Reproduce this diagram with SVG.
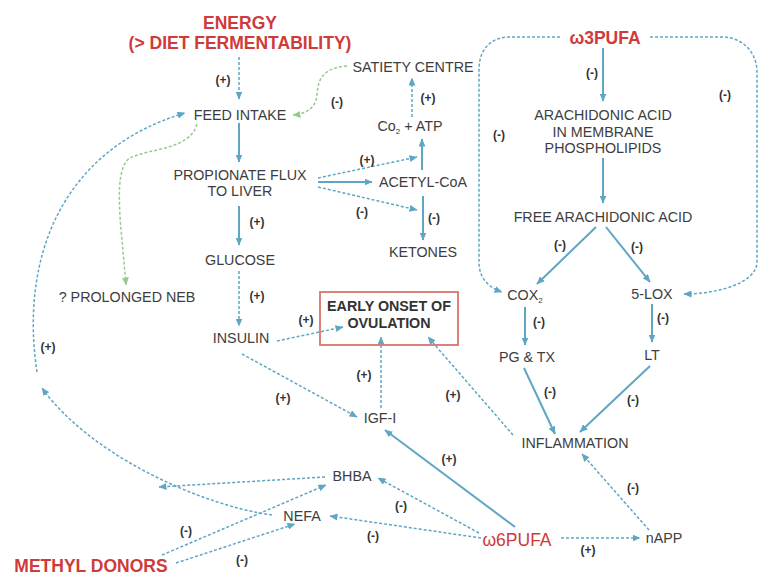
<svg xmlns="http://www.w3.org/2000/svg" width="758" height="577" viewBox="0 0 758 577">
<defs>
<marker id="ab" viewBox="0 0 8 7" refX="7.5" refY="3.5" markerWidth="8" markerHeight="7" markerUnits="userSpaceOnUse" orient="auto"><path d="M0,0 L8,3.5 L0,7 z" fill="#5ea6c4"/></marker>
<marker id="ag" viewBox="0 0 8 7" refX="7.5" refY="3.5" markerWidth="8" markerHeight="7" markerUnits="userSpaceOnUse" orient="auto"><path d="M0,0 L8,3.5 L0,7 z" fill="#98c98f"/></marker>
</defs>
<style>
text{font-family:"Liberation Sans",Arial,sans-serif;}
.n{font-size:14.3px;fill:#3d3d3d;text-anchor:middle;}
.r{font-size:17.5px;font-weight:bold;fill:#cf3a3a;text-anchor:middle;}
.rn{font-size:17.5px;fill:#cf3a3a;text-anchor:middle;}
.b{font-size:14.3px;font-weight:bold;fill:#333;text-anchor:middle;}
.l{font-size:12px;font-weight:bold;fill:#333;text-anchor:middle;}
.s{fill:none;stroke:#5ea6c4;stroke-width:2;marker-end:url(#ab);}
.d{fill:none;stroke:#5ea6c4;stroke-width:1.5;stroke-dasharray:3 2;marker-end:url(#ab);}
.g{fill:none;stroke:#98c98f;stroke-width:1.5;stroke-dasharray:3 2;marker-end:url(#ag);}
.dn{fill:none;stroke:#5ea6c4;stroke-width:1.5;stroke-dasharray:3 2;}
</style>
<rect width="758" height="577" fill="#fff"/>
<g id="connectors">
<path class="s" d="M239,123 L239,162"/>
<path class="s" d="M239,206 L239,245"/>
<path class="s" d="M318,182 L372,182"/>
<path class="s" d="M422,170 L422,139"/>
<path class="s" d="M423,196 L423,240"/>
<path class="s" d="M603,48 L603,101"/>
<path class="s" d="M603,158 L603,203"/>
<path class="s" d="M596,227 L537,284"/>
<path class="s" d="M606,227 L650,282"/>
<path class="s" d="M525,307 L525,345"/>
<path class="s" d="M652,304 L652,342"/>
<path class="s" d="M524,368 L555,434"/>
<path class="s" d="M650,366 L580,432"/>
<path class="s" d="M515,527 L385,430"/>
<path class="d" d="M239,57 L239,99"/>
<path class="d" d="M412,117 L412,78"/>
<path class="d" d="M318,178 L417,157"/>
<path class="d" d="M318,187 L417,210"/>
<path class="d" d="M239,271 L239,326"/>
<path class="d" d="M277,341 L343,327"/>
<path class="d" d="M242,354 L357,417"/>
<path class="d" d="M381,408 L381,337"/>
<path class="d" d="M513,435 L428,337"/>
<path class="d" d="M479,533 L378,478"/>
<path class="d" d="M481,538 L330,516"/>
<path class="d" d="M561,538 L640,538"/>
<path class="d" d="M649,530 L582,454"/>
<path class="d" d="M162,555 L326,485"/>
<path class="d" d="M176,563 L295,524"/>
<path class="d" d="M325,477 L159,487"/>
<path class="d" d="M272,515 C200,505 90,455 42,388"/>
<path class="d" d="M37,372 C20,260 60,150 185,113"/>
<path class="d" d="M560,37 L510,37 C490,37 479,50 479,70 L479,262 C479,278 488,287 502,292"/>
<path class="d" d="M650,37 L722,37 C742,37 757,52 757,72 L757,262 C757,282 720,294 684,294"/>
<path class="g" d="M347,66 C322,68 318,80 317,95 C316,108 306,114 293,115"/>
<path class="g" d="M197,124 C190,150 150,148 130,158 C117,166 118,200 122,240 L126,285"/>
</g>
<g id="labels">
<text class="l" x="223" y="84">(+)</text>
<text class="l" x="337" y="106">(-)</text>
<text class="l" x="428" y="102">(+)</text>
<text class="l" x="367" y="164">(+)</text>
<text class="l" x="362" y="216">(-)</text>
<text class="l" x="434" y="222">(-)</text>
<text class="l" x="257" y="226">(+)</text>
<text class="l" x="257" y="300">(+)</text>
<text class="l" x="306" y="324">(+)</text>
<text class="l" x="48" y="351">(+)</text>
<text class="l" x="364" y="379">(+)</text>
<text class="l" x="283" y="402">(+)</text>
<text class="l" x="453" y="399">(+)</text>
<text class="l" x="449" y="463">(+)</text>
<text class="l" x="401" y="510">(-)</text>
<text class="l" x="373" y="540">(-)</text>
<text class="l" x="186" y="535">(-)</text>
<text class="l" x="242" y="564">(-)</text>
<text class="l" x="588" y="554">(+)</text>
<text class="l" x="633" y="492">(-)</text>
<text class="l" x="592" y="77">(-)</text>
<text class="l" x="499" y="139">(-)</text>
<text class="l" x="725" y="99">(-)</text>
<text class="l" x="560" y="249">(-)</text>
<text class="l" x="637" y="251">(-)</text>
<text class="l" x="539" y="326">(-)</text>
<text class="l" x="663" y="322">(-)</text>
<text class="l" x="550" y="396">(-)</text>
<text class="l" x="633" y="404">(-)</text>
</g>
<g id="energy"><text class="r" x="240" y="29">ENERGY</text><text class="r" x="240" y="49">(&gt; DIET FERMENTABILITY)</text></g>
<g id="feed-intake"><text class="n" x="240" y="120">FEED INTAKE</text></g>
<g id="propionate"><text class="n" x="240" y="180">PROPIONATE FLUX</text><text class="n" x="240" y="196">TO LIVER</text></g>
<g id="glucose"><text class="n" x="240" y="265">GLUCOSE</text></g>
<g id="insulin"><text class="n" x="241" y="343">INSULIN</text></g>
<g id="neb"><text class="n" x="127" y="302">? PROLONGED NEB</text></g>
<g id="satiety"><text class="n" x="413" y="72">SATIETY CENTRE</text></g>
<g id="co2atp"><text class="n" x="410" y="131">Co<tspan font-size="8" dy="3">2</tspan><tspan dy="-3"> + ATP</tspan></text></g>
<g id="acetyl"><text class="n" x="423" y="187">ACETYL-CoA</text></g>
<g id="ketones"><text class="n" x="423" y="257">KETONES</text></g>
<g id="w3pufa"><text class="r" x="605" y="44">ω3PUFA</text></g>
<g id="arachidonic"><text class="n" x="603" y="120">ARACHIDONIC ACID</text><text class="n" x="603" y="137">IN MEMBRANE</text><text class="n" x="603" y="153">PHOSPHOLIPIDS</text></g>
<g id="free-aa"><text class="n" x="603" y="222">FREE ARACHIDONIC ACID</text></g>
<g id="cox2"><text class="n" x="525" y="300">COX<tspan font-size="8" dy="3">2</tspan></text></g>
<g id="lox"><text class="n" x="652" y="299">5-LOX</text></g>
<g id="pgtx"><text class="n" x="527" y="362">PG &amp; TX</text></g>
<g id="lt"><text class="n" x="652" y="360">LT</text></g>
<g id="inflammation"><text class="n" x="575" y="448">INFLAMMATION</text></g>
<g id="ovulation"><rect x="320" y="292" width="138" height="53" fill="none" stroke="#d9736c" stroke-width="1.8"/><text class="b" x="389" y="311">EARLY ONSET OF</text><text class="b" x="389" y="328">OVULATION</text></g>
<g id="igf"><text class="n" x="380" y="423">IGF-I</text></g>
<g id="bhba"><text class="n" x="352" y="481">BHBA</text></g>
<g id="nefa"><text class="n" x="302" y="521">NEFA</text></g>
<g id="w6pufa"><text class="rn" x="517" y="546">ω6PUFA</text></g>
<g id="napp"><text class="n" x="664" y="543">nAPP</text></g>
<g id="methyl"><text class="r" x="91" y="572">METHYL DONORS</text></g>
</svg>
